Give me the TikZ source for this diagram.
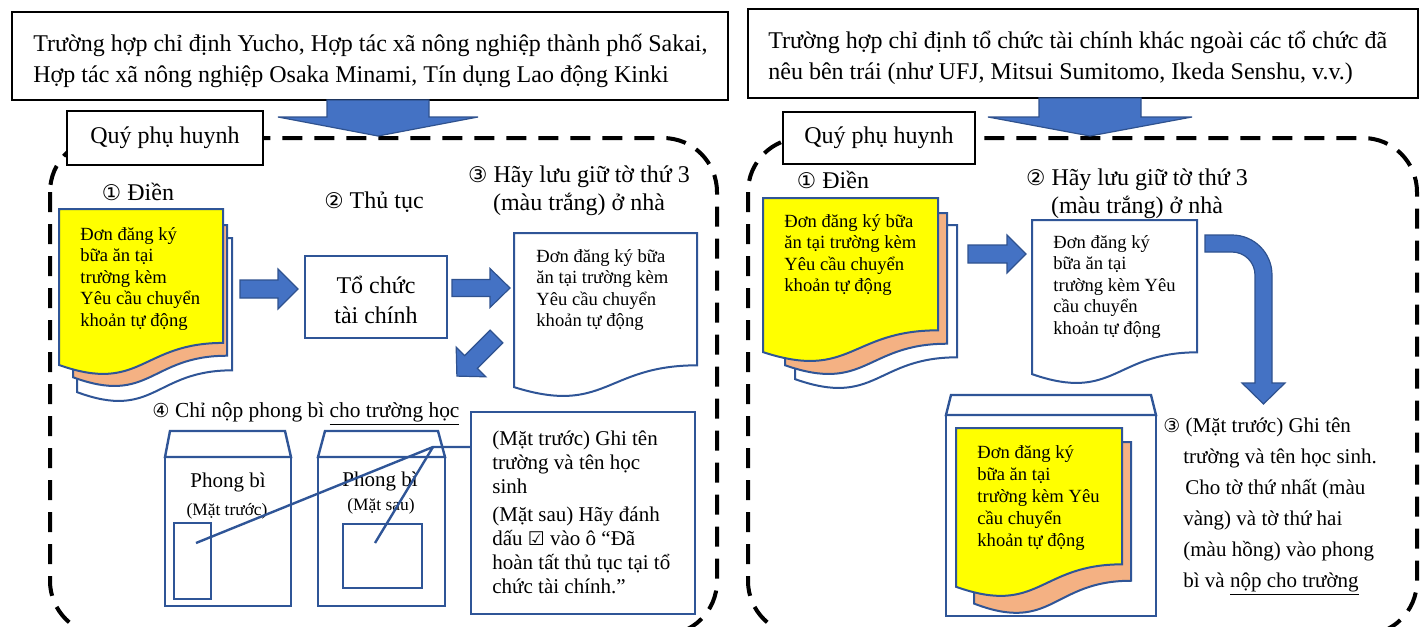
\documentclass[tikz,border=0pt]{standalone}
\usepackage{fontspec}
\setmainfont{Liberation Serif}
\newfontfamily\symfont[Scale=0.9]{DejaVu Sans}
\definecolor{docblue}{HTML}{2F5597}
\definecolor{arrowblue}{HTML}{4472C4}
\definecolor{arrowline}{HTML}{2F528F}
\definecolor{yellowpage}{HTML}{FFFF00}
\definecolor{pinkpage}{HTML}{F4B183}
\newcommand{\capline}{\rule{0pt}{1em}}

\tikzset{
  casebox/.style={draw, line width=1.25pt, inner sep=0pt},
  parentbox/.style={draw, fill=white, line width=1pt, inner sep=0pt, font=\fontsize{12}{14}\selectfont},
  bluebox/.style={draw=docblue, fill=white, line width=1pt, inner sep=0pt},
  boundary/.style={line width=2pt, dash pattern=on 10pt off 6pt, rounded corners=27pt},
  bigtext/.style={inner sep=0pt, font=\fontsize{12}{14}\selectfont},
  doctext/.style={anchor=north west, inner sep=0pt, align=left, font=\fontsize{9.3}{10.75}\selectfont},
  envline/.style={draw=docblue, line width=1.2pt},
  arrowfill/.style={fill=arrowblue, draw=arrowline, line width=0.6pt},
  pics/docsheet/.style n args={3}{code={
    \draw[draw=docblue, line width=1pt, #3] (0,0) -- (#1,0) -- (#1,0.802*#2)
      .. controls (0.5*#1,0.802*#2) and (0.5*#1,1.108*#2) .. (0,0.934*#2) -- cycle;}},
  pics/blockarrow/.style n args={4}{code={
    \draw[arrowfill] (0,-#2) -- (#1-#4,-#2) -- (#1-#4,-#3) -- (#1,0) -- (#1-#4,#3) -- (#1-#4,#2) -- (0,#2) -- cycle;}}
}

\begin{document}
\begin{tikzpicture}[x=0.5pt, y=-0.5pt]
	\useasboundingbox (0,0) rectangle (1421,627);
	\draw[boundary] (50,138) rectangle (717,635);
	\draw[boundary] (748,138) rectangle (1417,635);

	\node[casebox, minimum width=358pt, minimum height=44pt] (leftcase) at (370,56) {};
	\node[bigtext, anchor=north west, align=left, font=\fontsize{12}{15.5}\selectfont] (leftcasetext) at (33,27) {\capline Trường hợp chỉ định Yucho, Hợp tác xã nông nghiệp thành phố Sakai,\\ Hợp tác xã nông nghiệp Osaka Minami, Tín dụng Lao động Kinki};
	\node[casebox, minimum width=335pt, minimum height=44.5pt] (rightcase) at (1083,53.5) {};
	\node[bigtext, anchor=north west, align=left, font=\fontsize{12}{15.5}\selectfont] (rightcasetext) at (768,24) {\capline Trường hợp chỉ định tổ chức tài chính khác ngoài các tổ chức đã\\ nêu bên trái (như UFJ, Mitsui Sumitomo, Ikeda Senshu, v.v.)};

	\pic[rotate=-90] at (378,100) {blockarrow={36}{51}{100}{19}};
	\pic[rotate=-90] at (1090,98) {blockarrow={38}{51}{102}{19}};

	\node[parentbox, minimum width=98pt, minimum height=27pt] (leftparent) at (165,138) {Quý phụ huynh};
	\node[parentbox, minimum width=96pt, minimum height=26pt] (rightparent) at (879,138) {Quý phụ huynh};

	% left side
	\node[bigtext, anchor=base] (fillL) at (138,200) {{\symfont ①} Điền};
	\node[bigtext, anchor=base] (procL) at (374,208) {{\symfont ②} Thủ tục};
	\node[bigtext, anchor=north, align=center] (keepL) at (579,158) {\capline{\symfont ③} Hãy lưu giữ tờ thứ 3\\ (màu trắng) ở nhà};

	\pic at (77,238) {docsheet={155}{165}{fill=white}};
	\pic at (73,225) {docsheet={154}{163}{fill=pinkpage}};
	\pic at (59,209) {docsheet={164}{167}{fill=yellowpage}};
	\node[doctext] (formL) at (80,221) {\capline Đơn đăng ký\\ bữa ăn tại\\ trường kèm\\ Yêu cầu chuyển\\ khoản tự động};

	\node[bluebox, align=center, font=\fontsize{12}{15}\selectfont, minimum width=71pt, minimum height=41pt] (bankL) at (376,297) {\capline Tổ chức\\ tài chính};
	\pic at (240,289) {blockarrow={58}{9}{20}{20}};
	\pic at (452,288) {blockarrow={58}{8.5}{19.5}{20}};

	\pic at (514,233) {docsheet={183}{165}{fill=white}};
	\node[doctext] (copyL) at (536,243.4) {\capline Đơn đăng ký bữa\\ ăn tại trường kèm\\ Yêu cầu chuyển\\ khoản tự động};
	\pic[rotate=-135] at (496.5,336.5) {blockarrow={56}{9}{21}{20}};

	\node[anchor=base west, inner sep=0pt, font=\fontsize{10.7}{12}\selectfont] (sendL) at (152,417) {{\symfont ④} Chỉ nộp phong bì \underline{cho trường học}};

	\draw[envline] (170,431) -- (285,431) -- (291,457) -- (165,457) -- cycle;
	\draw[envline] (165,457) rectangle (291,606);
	\draw[envline] (174,523) rectangle (211,599);
	\node[anchor=base, inner sep=0pt, font=\fontsize{10.5}{12}\selectfont] (frontlabel) at (228,487) {Phong bì};
	\node[anchor=base, inner sep=0pt, font=\fontsize{8.7}{10}\selectfont] (frontside) at (227,515) {(Mặt trước)};

	\draw[envline] (325,431) -- (438,431) -- (445,457) -- (318,457) -- cycle;
	\draw[envline] (318,457) rectangle (445,606);
	\draw[envline] (343,524) rectangle (422,588);
	\node[anchor=base, inner sep=0pt, font=\fontsize{10.5}{12}\selectfont] (backlabel) at (380,486) {Phong bì};
	\node[anchor=base, inner sep=0pt, font=\fontsize{8.7}{10}\selectfont] (backside) at (381,510) {(Mặt sau)};

	\coordinate (frontpt) at (196,543);
	\coordinate (backpt) at (375,543);
	\coordinate (joint) at (433,447);
	\node[bluebox, minimum width=112pt, minimum height=101pt] (note) at (583,513) {};
	\node[doctext, font=\fontsize{10.5}{12}\selectfont] (notetext) at (492,424) {\capline(Mặt trước) Ghi tên\\ trường và tên học\\ sinh\\[2pt] (Mặt sau) Hãy đánh\\ dấu {\symfont ☑} vào ô “Đã\\ hoàn tất thủ tục tại tổ\\ chức tài chính.”};
	\draw[envline] (note.west |- joint) -- (joint) -- (frontpt);
	\draw[envline] (joint) -- (backpt);

	% right side
	\node[bigtext, anchor=base] (fillR) at (833,188) {{\symfont ①} Điền};
	\node[bigtext, anchor=north, align=center] (keepR) at (1137,161) {\capline{\symfont ②} Hãy lưu giữ tờ thứ 3\\ (màu trắng) ở nhà};

	\pic at (795,225) {docsheet={162}{165}{fill=white}};
	\pic at (785,213) {docsheet={162}{163}{fill=pinkpage}};
	\pic at (763,198) {docsheet={175}{165}{fill=yellowpage}};
	\node[doctext] (formR) at (784,208.4) {\capline Đơn đăng ký bữa\\ ăn tại trường kèm\\ Yêu cầu chuyển\\ khoản tự động};
	\pic at (968,254) {blockarrow={58}{9}{19}{19}};

	\pic at (1032,220) {docsheet={165}{165}{fill=white}};
	\node[doctext] (copyR) at (1053,229.4) {\capline Đơn đăng ký\\ bữa ăn tại\\ trường kèm Yêu\\ cầu chuyển\\ khoản tự động};

	\draw[arrowfill] (1205,235) -- (1232,235) arc[start angle=-90, end angle=0, radius=40] -- (1272,383) -- (1285,383) -- (1263.5,404) -- (1242,383) -- (1255,383) -- (1255,275) arc[start angle=0, end angle=-90, radius=23] -- (1205,252) -- cycle;

	\draw[envline] (951,395) -- (1151,395) -- (1156,415) -- (946,415) -- cycle;
	\draw[envline] (946,415) rectangle (1156,616);
	\pic at (974,442) {docsheet={157}{173}{fill=pinkpage}};
	\pic at (956,428) {docsheet={166}{170}{fill=yellowpage}};
	\node[doctext, font=\fontsize{9.3}{11}\selectfont] (sealedR) at (977,439.4) {\capline Đơn đăng ký\\ bữa ăn tại\\ trường kèm Yêu\\ cầu chuyển\\ khoản tự động};

	\node[doctext, font=\fontsize{10.5}{15.5}\selectfont] (sendR) at (1163,411) {\capline{\symfont ③} (Mặt trước) Ghi tên\\ \hspace*{10pt}trường và tên học sinh.\\ \hspace*{11pt}Cho tờ thứ nhất (màu\\ \hspace*{10pt}vàng) và tờ thứ hai\\ \hspace*{10pt}(màu hồng) vào phong\\ \hspace*{10pt}bì và \underline{nộp cho trường}};
\end{tikzpicture}
\end{document}
